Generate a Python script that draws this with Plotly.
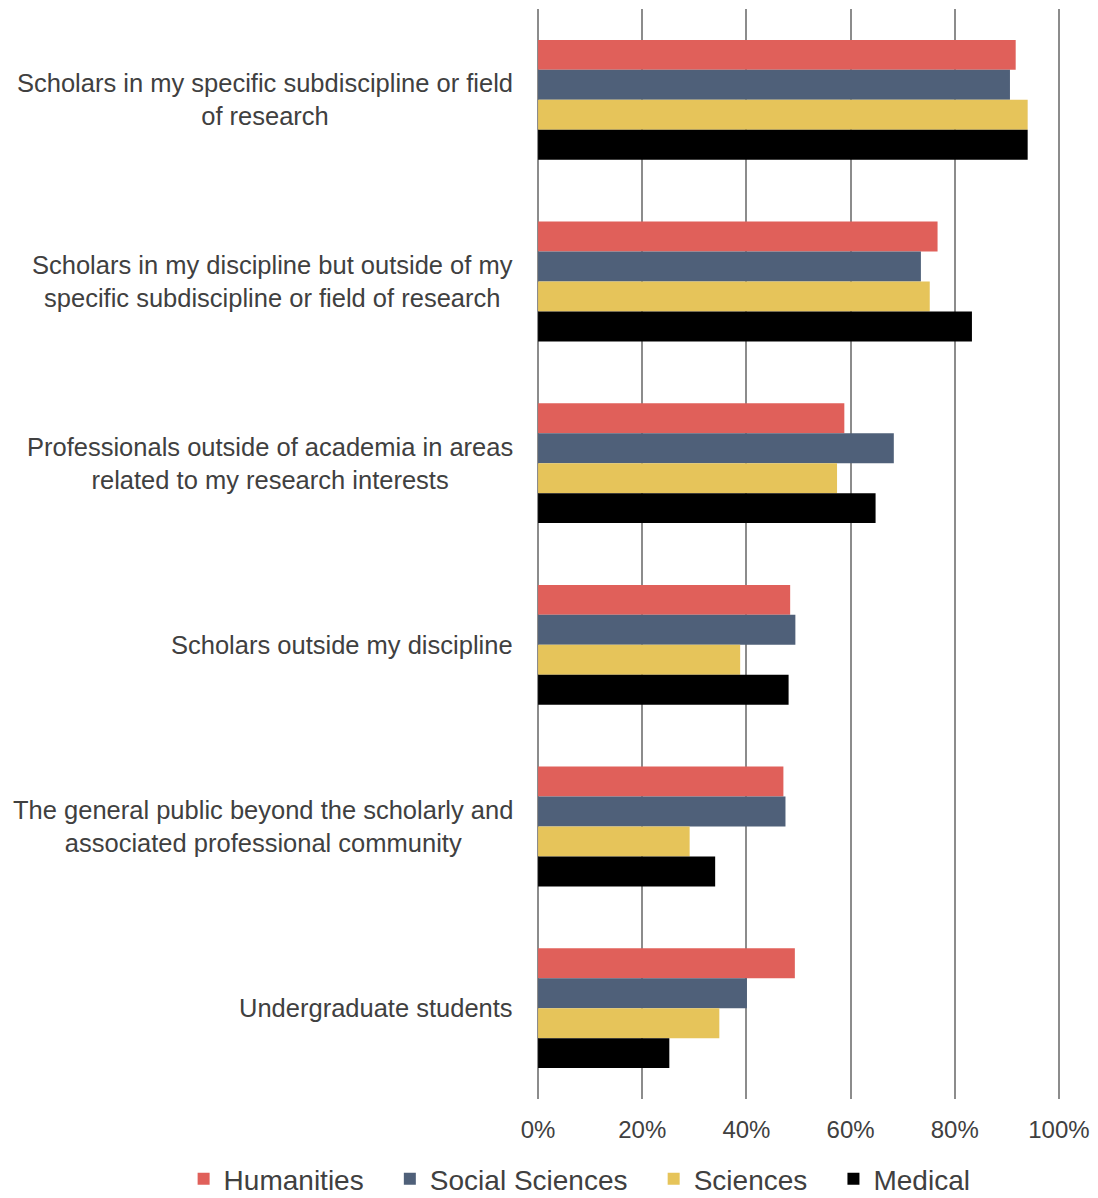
import plotly.graph_objects as go

categories = [
    "Scholars in my specific subdiscipline or field<br>of research",
    "Scholars in my discipline but outside of my<br>specific subdiscipline or field of research",
    "Professionals outside of academia in areas<br>related to my research interests",
    "Scholars outside my discipline",
    "The general public beyond the scholarly and<br>associated professional community",
    "Undergraduate students",
]
series_names = ["Humanities", "Social Sciences", "Sciences", "Medical"]
humanities = [91.7, 76.7, 58.8, 48.4, 47.1, 49.3]
social_sciences = [90.6, 73.5, 68.3, 49.4, 47.5, 40.1]
sciences = [94.0, 75.2, 57.4, 38.8, 29.1, 34.8]
medical = [94.0, 83.3, 64.8, 48.1, 34.0, 25.2]
tick_vals = [0, 20, 40, 60, 80, 100]
tick_text = ["0%", "20%", "40%", "60%", "80%", "100%"]

colors = ["#E0605A", "#4F6079", "#E6C45A", "#000000"]
series = [humanities, social_sciences, sciences, medical]

FONT = "Liberation Sans, Arial, Helvetica, sans-serif"
TXT = "#404040"
PAD = "\u00a0\u00a0\u2009"  # spacing between legend entries

fig = go.Figure()
for name, vals, col in zip(series_names, series, colors):
    fig.add_trace(go.Bar(
        name=name + PAD, x=vals, y=categories, orientation="h",
        marker=dict(color=col, line=dict(width=0)),
    ))

for cat in categories:
    fig.add_annotation(
        x=0, xref="paper", xanchor="right", xshift=-21,
        y=cat, yref="y", yanchor="middle",
        text=cat, showarrow=False, align="center",
        font=dict(family=FONT, size=25.5, color=TXT),
    )

fig.update_layout(
    width=1090, height=1215,
    margin=dict(l=528, r=37, t=1, b=124),
    paper_bgcolor="white", plot_bgcolor="white",
    barmode="group", bargap=0.34, bargroupgap=0,
    font=dict(family=FONT, color=TXT),
    xaxis=dict(
        range=[-0.4, 100.4], tickvals=tick_vals, ticktext=tick_text,
        showgrid=True, gridcolor="#8C8C8C", gridwidth=1.5,
        zeroline=False, showline=False, ticks="",
        tickfont=dict(family=FONT, size=24, color=TXT),
        ticklabelstandoff=14,
    ),
    yaxis=dict(
        autorange="reversed", showticklabels=False, showgrid=False,
        zeroline=False, showline=False, ticks="",
    ),
    legend=dict(
        orientation="h", x=-0.6712, xanchor="left", y=-0.0505, yanchor="top",
        font=dict(family=FONT, size=28, color=TXT),
        traceorder="normal", itemwidth=30,
    ),
    showlegend=True,
)

fig.write_html("out.html")
